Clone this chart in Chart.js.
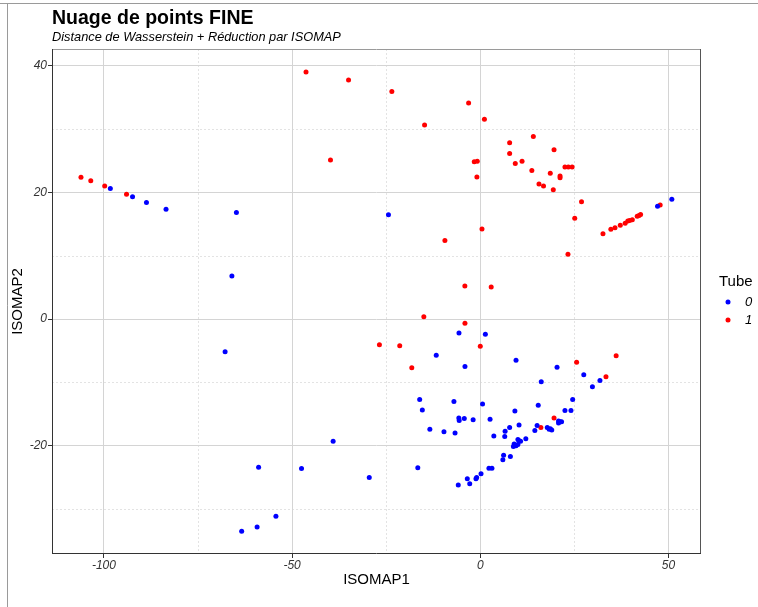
<!DOCTYPE html>
<html lang="fr">
<head>
<meta charset="UTF-8">
<title>Nuage de points FINE</title>
<script src="https://cdn.jsdelivr.net/npm/chart.js"></script>
<style>
    body { margin: 0; background: #fff; }
    #wrap { position: relative; width: 758px; height: 607px; }
</style>
</head>
<body>
<div id="wrap"><canvas id="chart" width="758" height="607"></canvas></div>
<script>
const FONT = '"Liberation Sans", Arial, sans-serif';

const seriesLabels = ['0', '1'];
const seriesColors = ['#0000ff', '#ff0000'];

// Tube 0
const x0 = [-98.3, -92.4, -88.7, -83.5, -64.8, -66.0, -24.4, 47.1, 50.9,
    -67.8, -39.1, -58.9, -47.5, -29.5, -54.3, -59.3, -63.4,
    -5.66, 1.35, -11.7, -4.07, 9.5, 20.4, 27.5, 31.8, 29.8, 16.2,
    -16.1, -7.0, 24.55, -15.4, 0.6, 15.4, 9.2, 22.5, 24.1,
    -5.7, -5.6, -4.25, -1.9, 2.6, 20.8, 21.2, 21.6, 20.8,
    10.3, 15.1, 17.8, 18.3, 19.0, 18.6, 14.5, 7.8, 6.6,
    -13.4, -9.65, -6.7, 3.6, 6.5, 12.1, 10.0, 10.3, 10.7,
    9.0, 8.8, 9.5, 10.0, 6.2, 6.0, 8.0, -16.6, 2.3, 3.1,
    0.2, -3.45, -1.15, -0.96, -2.8, -5.85];
const y0 = [20.6, 19.3, 18.4, 17.3, 16.8, 6.8, 16.45, 17.8, 18.9,
    -5.15, -19.3, -23.4, -23.6, -25.0, -31.1, -32.8, -33.5,
    -2.2, -2.4, -5.7, -7.5, -6.5, -7.6, -8.8, -9.7, -10.7, -9.9,
    -12.7, -13.0, -12.7, -14.35, -13.4, -13.6, -14.5, -14.45, -14.45,
    -15.6, -16.0, -15.7, -15.9, -15.8, -16.1, -16.2, -16.2, -16.4,
    -16.7, -16.8, -17.1, -17.4, -17.5, -17.3, -17.6, -17.1, -17.7,
    -17.4, -17.8, -18.0, -18.45, -18.55, -18.9, -19.0, -19.2, -19.3,
    -19.7, -20.1, -20.0, -19.8, -21.5, -22.2, -21.7, -23.45, -23.55, -23.55,
    -24.4, -25.2, -25.2, -25.0, -26.0, -26.2];

// Tube 1
const x1 = [-106.1, -103.5, -99.8, -94.0, -46.3, -35.0, -39.8, -23.5, -3.1, 1.1, -14.8, -9.4, 0.45, -4.1, 2.9,
    14.1, 7.8, 19.6, 7.8, -1.6, -0.8, 11.1, 9.3, 22.5, 23.4, 24.4, 13.7, 18.6, 21.2, 21.2, -0.9, 15.6, 16.8, 19.4, 26.9, 25.1, 23.3,
    32.6, 34.7, 35.8, 37.2, 38.5, 39.2, 39.7, 40.4, 41.7, 42.2, 42.6, 47.8,
    -15.0, -4.07, -26.8, -21.4, 0.0, -18.2, 25.6, 36.1, 33.4, 19.6, 16.1];
const y1 = [22.35, 21.8, 21.0, 19.7, 38.96, 37.7, 25.1, 35.9, 34.1, 31.5, 30.6, 12.4, 14.2, 5.2, 5.05,
    28.8, 27.8, 26.7, 26.1, 24.8, 24.9, 24.9, 24.55, 24.0, 24.0, 24.0, 23.45, 23.0, 22.55, 22.3, 22.4, 21.3, 21.0, 20.4, 18.5, 15.9, 10.2,
    13.45, 14.15, 14.4, 14.8, 15.1, 15.45, 15.55, 15.65, 16.2, 16.35, 16.5, 18.0,
    0.37, -0.68, -4.05, -4.2, -4.3, -7.7, -6.8, -5.8, -9.1, -15.6, -17.1];

const xTicks = [-100, -50, 0, 50];
const yTicks = [-20, 0, 20, 40];
const xMinor = [-75, -25, 25];
const yMinor = [-30, -10, 10, 30];

const toPoints = (xs, ys) => xs.map((x, i) => ({ x, y: ys[i] }));

const decor = {
    id: 'decor',
    beforeDraw(chart) {
        const { ctx, chartArea: a, scales } = chart;
        ctx.save();
        // outer frame lines
        ctx.strokeStyle = '#9a9a9a';
        ctx.lineWidth = 1;
        ctx.beginPath();
        ctx.moveTo(0, 3.5); ctx.lineTo(758, 3.5);
        ctx.moveTo(7.5, 3.5); ctx.lineTo(7.5, 607);
        ctx.stroke();
        // minor grid
        ctx.strokeStyle = '#e3e3e3';
        ctx.setLineDash([2, 2]);
        ctx.beginPath();
        xMinor.forEach(v => {
            const px = Math.round(scales.x.getPixelForValue(v)) + 0.5;
            ctx.moveTo(px, a.top); ctx.lineTo(px, a.bottom);
        });
        yMinor.forEach(v => {
            const py = Math.round(scales.y.getPixelForValue(v)) + 0.5;
            ctx.moveTo(a.left, py); ctx.lineTo(a.right, py);
        });
        ctx.stroke();
        ctx.restore();
    },
    afterDraw(chart) {
        const { ctx, chartArea: a, data } = chart;
        ctx.save();
        // panel border
        ctx.lineWidth = 1;
        ctx.strokeStyle = '#9a9a9a';
        ctx.beginPath(); ctx.moveTo(a.left, a.top + 0.5); ctx.lineTo(a.right, a.top + 0.5); ctx.stroke();
        ctx.strokeStyle = '#555';
        ctx.beginPath(); ctx.moveTo(a.right - 0.5, a.top); ctx.lineTo(a.right - 0.5, a.bottom); ctx.stroke();
        ctx.strokeStyle = '#333';
        ctx.beginPath();
        ctx.moveTo(a.left + 0.5, a.top); ctx.lineTo(a.left + 0.5, a.bottom);
        ctx.moveTo(a.left, a.bottom - 0.5); ctx.lineTo(a.right, a.bottom - 0.5);
        ctx.stroke();

        // title + subtitle
        ctx.fillStyle = '#000';
        ctx.textAlign = 'left';
        ctx.textBaseline = 'alphabetic';
        ctx.font = 'bold 19.5px ' + FONT;
        ctx.fillText('Nuage de points FINE', a.left, 24);
        ctx.font = 'italic 12.8px ' + FONT;
        ctx.fillText('Distance de Wasserstein + Réduction par ISOMAP', a.left, 41);

        // legend
        ctx.font = '15px ' + FONT;
        ctx.fillText('Tube', 719, 286);
        data.datasets.forEach((ds, i) => {
            const cy = 302 + i * 18;
            ctx.fillStyle = ds.backgroundColor;
            ctx.beginPath(); ctx.arc(728, cy, 2.5, 0, Math.PI * 2); ctx.fill();
            ctx.fillStyle = '#000';
            ctx.font = 'italic 13px ' + FONT;
            ctx.textBaseline = 'middle';
            ctx.fillText(ds.label, 745, cy);
            ctx.textBaseline = 'alphabetic';
        });
        ctx.restore();
    }
};

new Chart(document.getElementById('chart'), {
    type: 'scatter',
    data: {
        datasets: [
            { label: seriesLabels[0], data: toPoints(x0, y0), backgroundColor: seriesColors[0], borderWidth: 0, pointRadius: 2.5 },
            { label: seriesLabels[1], data: toPoints(x1, y1), backgroundColor: seriesColors[1], borderWidth: 0, pointRadius: 2.5 }
        ]
    },
    options: {
        responsive: false,
        animation: false,
        devicePixelRatio: 1,
        layout: { padding: { top: 49, right: 57, bottom: 0, left: 0 } },
        plugins: { legend: { display: false }, tooltip: { enabled: false } },
        scales: {
            x: {
                type: 'linear',
                min: -113.8,
                max: 58.65,
                afterBuildTicks: s => { s.ticks = xTicks.map(v => ({ value: v })); },
                afterFit: s => { s.height = 53; },
                grid: { color: '#d4d4d4', lineWidth: 1, tickLength: 4, tickColor: '#333' },
                border: { display: false },
                ticks: { font: { family: FONT, size: 12, style: 'italic' }, color: '#333', padding: 0, maxRotation: 0, autoSkip: false },
                title: { display: true, text: 'ISOMAP1', font: { family: FONT, size: 15 }, color: '#000', padding: { top: 0, bottom: 18 } }
            },
            y: {
                type: 'linear',
                min: -37.07,
                max: 42.6,
                afterBuildTicks: s => { s.ticks = yTicks.map(v => ({ value: v })); },
                afterFit: s => { s.width = 52; },
                grid: { color: '#d4d4d4', lineWidth: 1, tickLength: 4, tickColor: '#333' },
                border: { display: false },
                ticks: { font: { family: FONT, size: 12, style: 'italic' }, color: '#333', padding: 1 },
                title: { display: true, text: 'ISOMAP2', font: { family: FONT, size: 15 }, color: '#000', padding: { top: 9, bottom: 0 } }
            }
        }
    },
    plugins: [decor]
});
</script>
</body>
</html>
